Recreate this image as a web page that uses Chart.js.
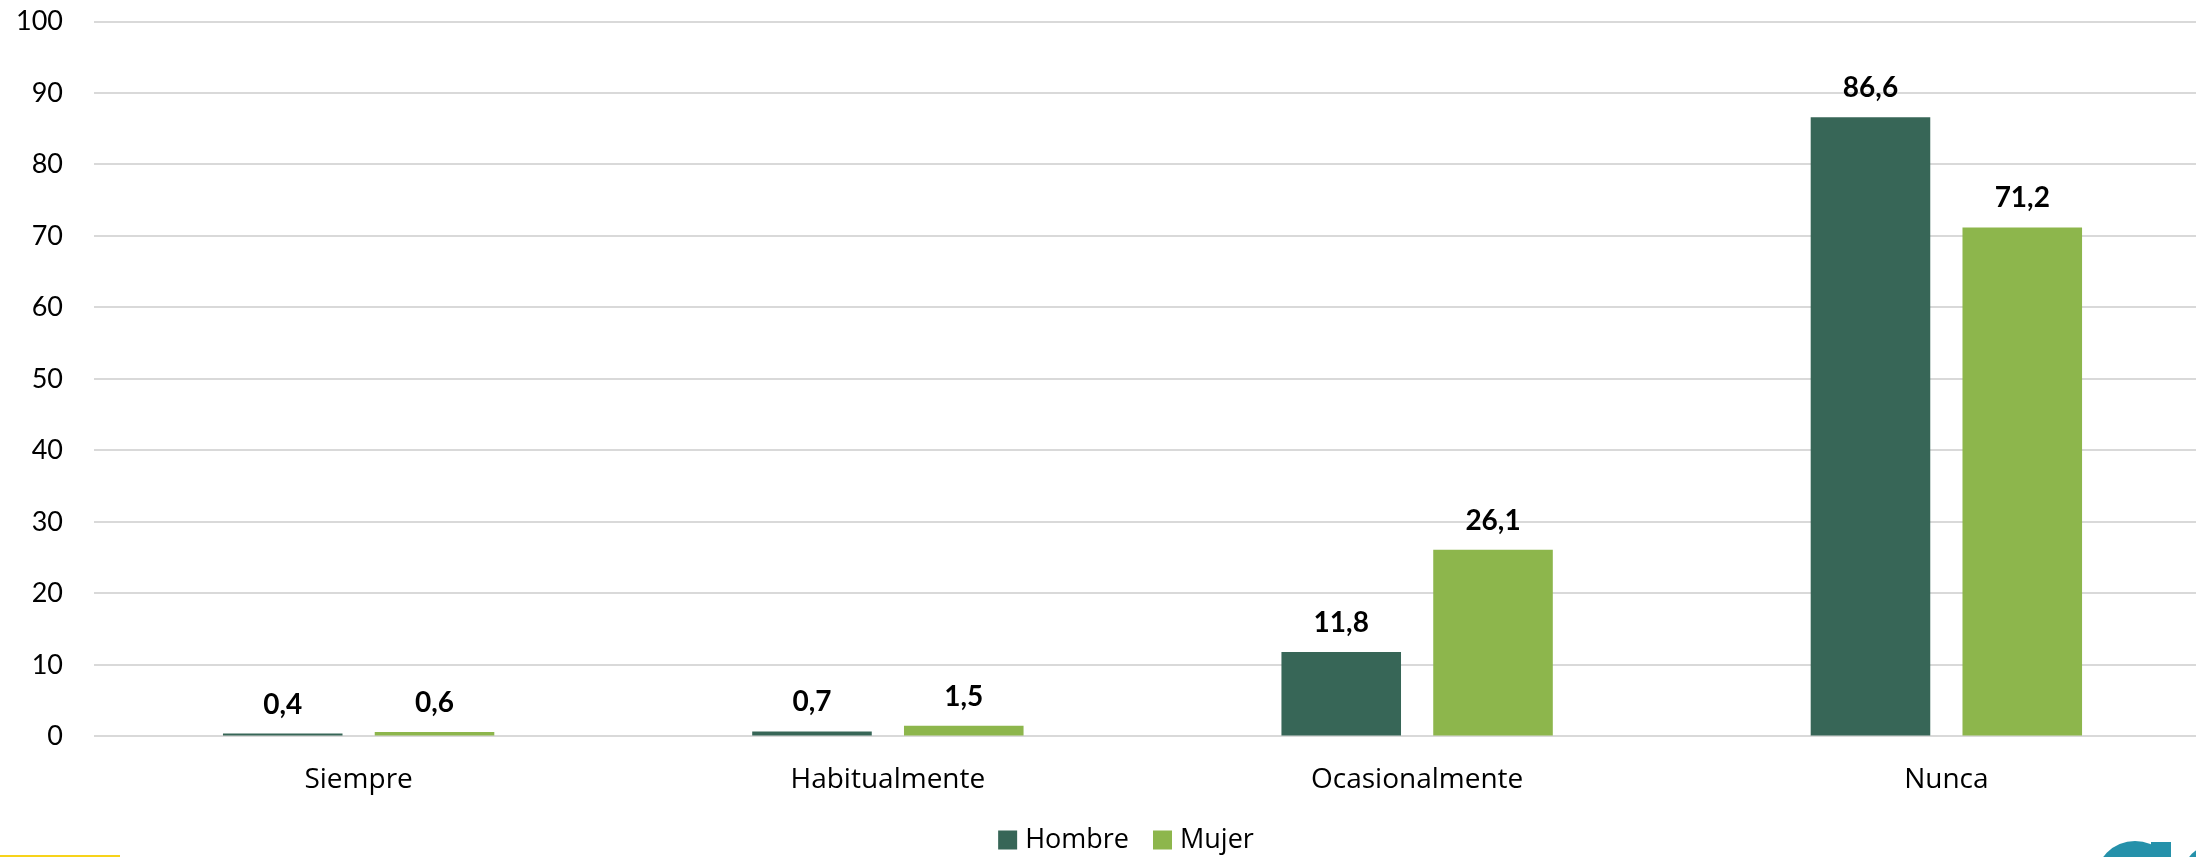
<!DOCTYPE html>
<html>
<head>
<meta charset="utf-8">
<script src="https://cdn.jsdelivr.net/npm/chart.js@4/dist/chart.umd.min.js"></script>
<style>
  html, body { margin: 0; padding: 0; background: #ffffff; overflow: hidden; width: 2196px; height: 857px; position: relative; }
  #wrap { position: absolute; left: 0; top: 0; width: 2211px; height: 857px; }
  .deco { position: absolute; }
</style>
</head>
<body>
<div id="wrap"><canvas id="c" width="2211" height="857"></canvas></div>
<div class="deco" style="left:0;top:855px;width:120px;height:2px;background:#f7d31a;"></div>
<div class="deco" style="left:2095px;top:841px;width:80px;height:80px;border-radius:50%;background:#2591aa;"></div>
<div class="deco" style="left:2151px;top:842px;width:20px;height:20px;background:#2591aa;"></div>
<div class="deco" style="left:2183px;top:845px;width:60px;height:60px;border-radius:50%;background:#2591aa;"></div>
<script>
const categories = ['Siempre', 'Habitualmente', 'Ocasionalmente', 'Nunca'];
const seriesNames = ['Hombre', 'Mujer'];
const hombre = [0.4, 0.7, 11.8, 86.6];
const mujer = [0.6, 1.5, 26.1, 71.2];
const yTicks = [0, 10, 20, 30, 40, 50, 60, 70, 80, 90, 100];
const colors = ['#376657', '#8db64c'];

const fmt = v => v.toFixed(1).replace('.', ',');

const valueLabels = {
  id: 'valueLabels',
  afterDatasetsDraw(chart) {
    const ctx = chart.ctx;
    ctx.save();
    ctx.font = 'bold 28px Lato';
    ctx.fillStyle = '#000000';
    ctx.textAlign = 'center';
    ctx.textBaseline = 'alphabetic';
    chart.data.datasets.forEach((ds, i) => {
      const meta = chart.getDatasetMeta(i);
      meta.data.forEach((bar, j) => {
        ctx.fillText(fmt(ds.data[j]), bar.x, bar.y - 20);
      });
    });
    ctx.restore();
  }
};

const customLegend = {
  id: 'customLegend',
  afterDraw(chart) {
    const ctx = chart.ctx;
    ctx.save();
    ctx.font = '27px "Open Sans"';
    ctx.textBaseline = 'middle';
    ctx.textAlign = 'left';
    const box = 19, gapText = 8, gapItem = 24;
    const items = chart.data.datasets.map(ds => ({ label: ds.label, color: ds.backgroundColor, w: box + gapText + ctx.measureText(ds.label).width }));
    const total = items.reduce((s, it) => s + it.w, 0) + gapItem * (items.length - 1);
    let x = 1126 - total / 2;
    const cy = 840;
    items.forEach(it => {
      ctx.fillStyle = it.color;
      ctx.fillRect(x, cy - box / 2, box, box);
      ctx.fillStyle = '#000000';
      ctx.fillText(it.label, x + box + gapText, cy);
      x += it.w + gapItem;
    });
    ctx.restore();
  }
};

new Chart(document.getElementById('c'), {
  type: 'bar',
  data: {
    labels: categories,
    datasets: [
      { label: seriesNames[0], data: hombre, backgroundColor: colors[0], borderWidth: 0 },
      { label: seriesNames[1], data: mujer, backgroundColor: colors[1], borderWidth: 0 }
    ]
  },
  options: {
    responsive: false,
    animation: false,
    events: [],
    layout: { padding: { top: 21.5, bottom: 33, left: 0, right: 0 } },
    datasets: { bar: { categoryPercentage: 0.5736, barPercentage: 0.7877 } },
    plugins: { legend: { display: false }, tooltip: { enabled: false } },
    scales: {
      x: {
        grid: { display: false, drawTicks: false },
        border: { display: false },
        ticks: { font: { family: 'Open Sans', size: 28 }, color: '#000000', padding: 27 }
      },
      y: {
        min: 0, max: 100,
        afterBuildTicks(scale) { scale.ticks = yTicks.map(v => ({ value: v })); },
        afterFit(scale) { scale.width = 94; scale.paddingTop = 0; scale.paddingBottom = 0; },
        grid: { color: '#d9d9d9', lineWidth: 2, drawTicks: false },
        border: { display: false },
        ticks: { font: { family: 'Lato', size: 27 }, color: '#000000', padding: 31 }
      }
    }
  },
  plugins: [valueLabels, customLegend]
});
</script>
</body>
</html>
